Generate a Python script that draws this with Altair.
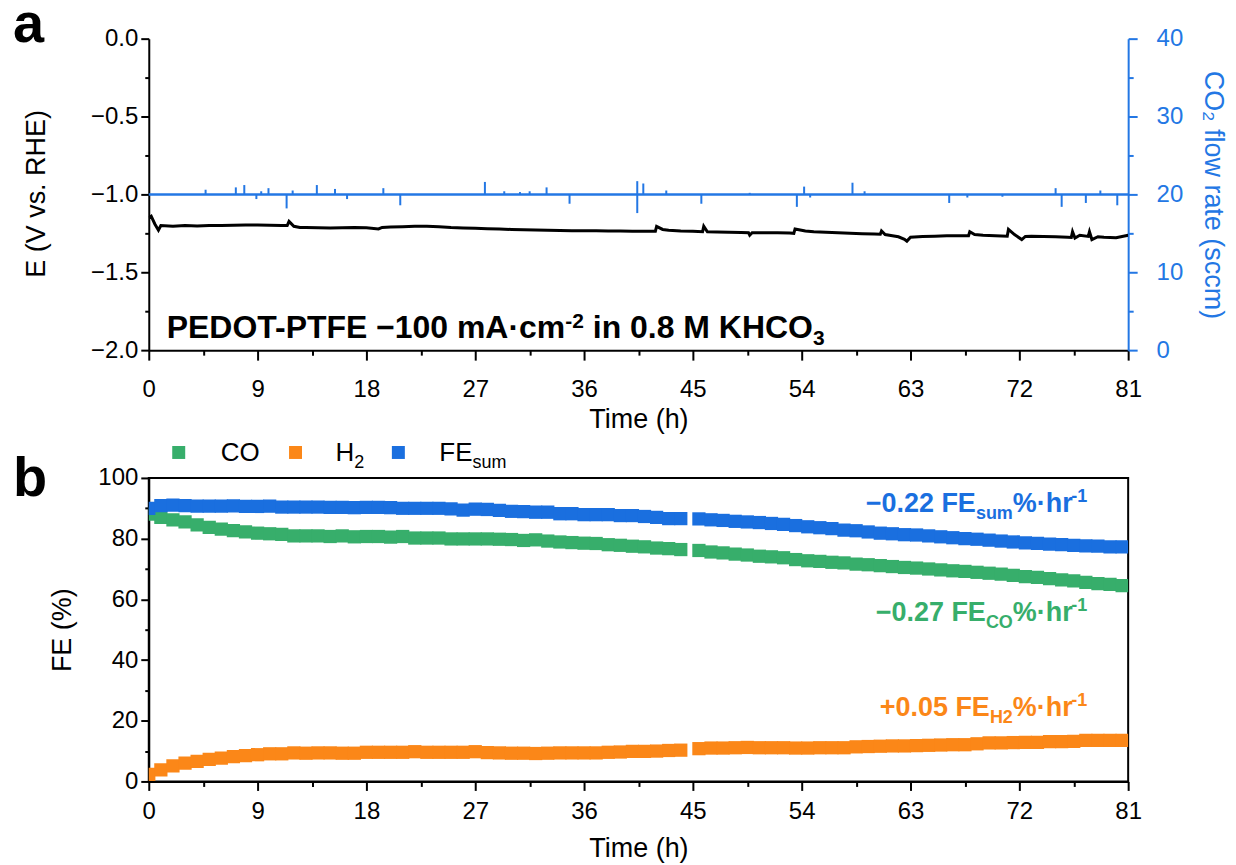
import altair as alt
import pandas as pd

FONT = "Liberation Sans"

# ---------------- data ----------------
run1_hours = [0, 1, 2, 3, 4, 5, 6, 7, 8, 9, 10, 11, 12, 13, 14, 15, 16, 17, 18, 19,
              20, 21, 22, 23, 24, 25, 26, 27, 28, 29, 30, 31, 32, 33, 34, 35, 36, 37,
              38, 39, 40, 41, 42, 43, 44]
run2_hours = [45.5, 46.5, 47.5, 48.5, 49.5, 50.5, 51.5, 52.5, 53.5, 54.5, 55.5, 56.5,
              57.5, 58.5, 59.5, 60.5, 61.5, 62.5, 63.5, 64.5, 65.5, 66.5, 67.5, 68.5,
              69.5, 70.5, 71.5, 72.5, 73.5, 74.5, 75.5, 76.5, 77.5, 78.5, 79.5, 80.5]

fe_sum_run1 = [90.0, 90.9, 91.0, 90.9, 90.7, 90.7, 90.7, 90.8, 90.6, 90.6,
               90.7, 90.4, 90.4, 90.4, 90.4, 90.3, 90.3, 90.2, 90.3, 90.3,
               90.2, 90.0, 90.0, 90.0, 90.0, 89.8, 89.4, 89.7, 89.6, 89.3,
               89.0, 88.9, 88.7, 88.7, 88.2, 88.2, 87.9, 87.9, 87.9, 87.6,
               87.6, 87.3, 87.0, 86.6, 86.6]
fe_sum_run2 = [86.5, 86.2, 86.0, 85.7, 85.5, 85.3, 85.0, 84.7, 84.3, 83.9,
               83.6, 83.3, 82.8, 82.6, 82.2, 81.8, 81.6, 81.3, 81.2, 80.9,
               80.6, 80.3, 80.0, 79.8, 79.5, 79.2, 78.9, 78.6, 78.4, 78.2,
               78.0, 77.8, 77.6, 77.5, 77.3, 77.3]

fe_co_run1 = [88.1, 87.0, 86.2, 85.5, 84.5, 83.7, 83.1, 82.6, 82.2, 81.8,
              81.6, 81.4, 80.9, 80.9, 80.9, 80.7, 80.9, 80.6, 80.7, 80.7,
              80.5, 80.7, 80.2, 80.2, 80.2, 79.9, 79.9, 79.9, 79.9, 79.8,
              79.7, 79.4, 79.6, 79.2, 78.9, 78.7, 78.5, 78.4, 78.0, 77.8,
              77.5, 77.3, 76.9, 76.7, 76.4]
fe_co_run2 = [76.1, 75.6, 75.3, 74.9, 74.6, 74.2, 74.0, 73.7, 73.1, 72.7,
              72.5, 72.2, 72.0, 71.6, 71.4, 71.1, 70.8, 70.5, 70.3, 70.0,
              69.7, 69.4, 69.2, 68.9, 68.6, 68.3, 67.9, 67.5, 67.2, 66.8,
              66.4, 66.1, 65.6, 65.2, 64.9, 64.5]

fe_h2_run1 = [2.3, 3.8, 5.1, 6.0, 6.6, 7.3, 7.7, 8.2, 8.5, 8.8,
              9.1, 9.1, 9.4, 9.3, 9.4, 9.4, 9.3, 9.3, 9.6, 9.6,
              9.6, 9.6, 9.8, 9.6, 9.6, 9.6, 9.6, 9.8, 9.5, 9.4,
              9.3, 9.3, 9.2, 9.3, 9.4, 9.4, 9.4, 9.4, 9.6, 9.7,
              9.9, 9.9, 10.0, 10.2, 10.3]
fe_h2_run2 = [10.8, 11.0, 11.0, 11.1, 11.2, 11.1, 11.1, 11.1, 11.0, 11.0,
              11.1, 11.1, 11.1, 11.4, 11.5, 11.6, 11.7, 11.7, 11.8, 11.9,
              12.0, 12.1, 12.1, 12.4, 12.7, 12.7, 12.8, 12.9, 12.9, 13.1,
              13.1, 13.2, 13.5, 13.5, 13.5, 13.5]

e_hours = [0.0, 0.2, 0.5, 0.8, 1.0, 2, 3, 4, 5, 6,
           7, 8, 9, 10, 11, 11.45, 11.6, 12.0, 12.5, 13,
           14, 15, 16, 17, 18, 19, 19.3, 20, 21, 22,
           23, 24, 25, 26, 27, 28, 29, 30, 31, 32,
           33, 34, 35, 36, 37, 38, 39, 40, 41, 41.9,
           42.0, 42.5, 43, 44, 45, 45.8, 45.9, 46.2, 47, 48,
           49, 49.6, 49.7, 49.9, 51, 52, 53, 53.35, 53.45, 54.3,
           55, 56, 57, 58, 59, 60, 60.5, 60.6, 60.9, 61.5,
           62.0, 62.5, 62.7, 63.0, 64, 65, 66, 67, 67.8, 67.9,
           68.3, 69, 70, 71.0, 71.1, 71.6, 72.2, 72.5, 73, 74,
           75, 76, 76.3, 76.4, 76.6, 77.0, 77.7, 77.8, 78.0, 78.5,
           79, 80, 81]
e_values = [-1.15, -1.14, -1.19, -1.23, -1.20, -1.205, -1.20, -1.203, -1.20, -1.20,
            -1.198, -1.197, -1.196, -1.198, -1.20, -1.20, -1.173, -1.205, -1.213, -1.213,
            -1.214, -1.215, -1.214, -1.212, -1.214, -1.222, -1.212, -1.209, -1.207, -1.205,
            -1.205, -1.207, -1.212, -1.215, -1.218, -1.220, -1.222, -1.225, -1.227, -1.228,
            -1.230, -1.232, -1.233, -1.233, -1.234, -1.235, -1.235, -1.236, -1.236, -1.236,
            -1.205, -1.225, -1.230, -1.235, -1.237, -1.240, -1.205, -1.240, -1.242, -1.243,
            -1.245, -1.246, -1.262, -1.246, -1.246, -1.247, -1.248, -1.250, -1.222, -1.235,
            -1.240, -1.243, -1.246, -1.250, -1.253, -1.255, -1.256, -1.235, -1.258, -1.265,
            -1.272, -1.288, -1.300, -1.275, -1.270, -1.268, -1.266, -1.265, -1.265, -1.240,
            -1.258, -1.262, -1.265, -1.268, -1.225, -1.258, -1.290, -1.270, -1.268, -1.270,
            -1.272, -1.275, -1.276, -1.240, -1.280, -1.262, -1.270, -1.240, -1.290, -1.272,
            -1.275, -1.278, -1.262]

flow_base_hours = [0, 81]
flow_base_values = [20, 20]
spike_hours = [4.7, 7.2, 7.9, 8.9, 9.3, 9.9, 11.4, 11.9, 13.9, 15.4,
               16.4, 19.4, 20.8, 27.8, 29.4, 30.7, 31.5, 32.9, 34.8, 40.4,
               40.4, 40.9, 42.8, 45.7, 49.7, 53.6, 54.2, 54.7, 58.2, 59.2,
               66.2, 67.7, 70.6, 75.0, 75.5, 77.5, 78.7, 80.1]
spike_values = [20.6, 20.9, 21.2, 19.4, 20.4, 20.8, 18.2, 20.5, 21.2, 20.7,
                19.4, 20.8, 18.6, 21.6, 20.4, 20.3, 20.4, 20.9, 18.8, 21.7,
                17.6, 21.4, 20.5, 18.8, 20.2, 18.4, 21.0, 19.6, 21.5, 20.4,
                18.9, 19.6, 19.7, 20.8, 18.4, 18.9, 20.5, 18.6]

x_major = [0, 9, 18, 27, 36, 45, 54, 63, 72, 81]
x_minor = [4.5, 13.5, 22.5, 31.5, 40.5, 49.5, 58.5, 67.5, 76.5]
e_ticks = [-2.0, -1.75, -1.5, -1.25, -1.0, -0.75, -0.5, -0.25, 0.0]
flow_ticks = [0, 5, 10, 15, 20, 25, 30, 35, 40]
fe_ticks = [0, 10, 20, 30, 40, 50, 60, 70, 80, 90, 100]

legend_labels = ["CO", "H", "FE"]
legend_subs = ["", "2", "sum"]
title_a = ["PEDOT-PTFE \u2212100 mA\u00b7cm", "-2", " in 0.8 M KHCO", "3"]
rate_main = ["\u22120.22 FE", "\u22120.27 FE", "+0.05 FE"]
rate_subs = ["sum", "CO", "H2"]
rate_tail = ["%\u00b7hr", "-1"]

# ---------------- styling ----------------
BLACK = "#000000"
FLOW_BLUE = "#2377e4"
SUM_BLUE = "#1a6fdf"
CO_GREEN = "#37ae6b"
H2_ORANGE = "#fb8718"
W, HA, HB = 981, 312, 304

BOLD_W = {' ': 278, '-': 333, '\u2212': 584, '+': 584, '.': 278, '%': 889, '\u00b7': 278,
          'h': 611, 'r': 389, 'F': 611, 'E': 667, 's': 556, 'u': 611, 'm': 889, 'C': 722,
          'O': 778, 'H': 722, 'P': 667, 'D': 722, 'T': 611, 'A': 722, 'c': 556, 'i': 278,
          'n': 611, 'M': 833, 'K': 722}
REG_W = {'C': 722, 'O': 778, 'H': 722, 'F': 611, 'E': 667, 's': 500, 'u': 556, 'm': 833}


def tw(s, size, bold=True):
    table = BOLD_W if bold else REG_W
    return sum(table.get(ch, 556) for ch in s) * size / 1000.0


def rich(pieces, x, y, color, bold=True, align="left"):
    total = sum(tw(t, s, bold) for t, s, _ in pieces)
    cur = x - total if align == "right" else x
    out = []
    for t, s, dy in pieces:
        lead = len(t) - len(t.lstrip(" "))
        shown = t.strip(" ")
        if shown:
            out.append(
                alt.Chart(pd.DataFrame({"label": [shown]}))
                .mark_text(align="left", baseline="alphabetic", font=FONT, fontSize=s,
                           fontWeight="bold" if bold else "normal", color=color)
                .encode(x=alt.value(cur + tw(" " * lead, s, bold)), y=alt.value(y + dy),
                        text="label:N")
            )
        cur += tw(t, s, bold)
    return out


def axis(**kw):
    base = dict(grid=False, domainColor=BLACK, domainWidth=2, tickColor=BLACK, tickWidth=2,
                labelFont=FONT, labelFontSize=24, labelColor=BLACK, labelFlush=False,
                labelOverlap=False, titleFont=FONT, titleFontSize=27, titleFontWeight="normal",
                titleColor=BLACK)
    base.update(kw)
    return alt.Axis(**base)


def cond(test, major, minor):
    return {"condition": {"test": test, "value": major}, "value": minor}


x_all = sorted(x_major + x_minor)

x_axis_a = axis(values=x_all, format="d", labelExpr="datum.value % 9 === 0 ? datum.label : ''",
                tickSize=cond("datum.value % 9 === 0", 10, 5), labelBaseline="middle",
                labelPadding=29, title="Time (h)", titleX=W / 2, titleY=69,
                titleBaseline="middle")
x_axis_b = axis(values=x_all, format="d", labelExpr="datum.value % 9 === 0 ? datum.label : ''",
                tickSize=cond("datum.value % 9 === 0", 9, 5), labelBaseline="middle",
                labelPadding=21, title="Time (h)", titleX=W / 2, titleY=67,
                titleBaseline="middle")
e_axis = axis(values=e_ticks, format=".1f", labelExpr="datum.value % 0.5 === 0 ? datum.label : ''",
              tickSize=cond("datum.value % 0.5 === 0", 8, 4), labelPadding=3,
              title="E (V vs. RHE)", titleX=-112, titleY=HA / 2 - 1, titleBaseline="middle")
flow_axis = axis(orient="right", values=flow_ticks, format="d",
                 labelExpr="datum.value % 10 === 0 ? datum.label : ''",
                 tickSize=cond("datum.value % 10 === 0", 9, 5), labelPadding=19,
                 domainColor=FLOW_BLUE, tickColor=FLOW_BLUE, labelColor=FLOW_BLUE,
                 titleColor=FLOW_BLUE, title="CO\u2082 flow rate (sccm)", titleX=84,
                 titleY=HA / 2, titleBaseline="middle")
fe_axis = axis(values=fe_ticks, format="d", labelExpr="datum.value % 20 === 0 ? datum.label : ''",
               tickSize=cond("datum.value % 20 === 0", 8, 4), labelPadding=3,
               title="FE (%)", titleX=-86, titleY=HB / 2, titleBaseline="middle")

xs = alt.Scale(domain=[0, 81], nice=False, zero=False)
xa = alt.X("t:Q", scale=xs, axis=x_axis_a)
xb = alt.X("t:Q", scale=xs, axis=x_axis_b)

# ---------------- panel a ----------------
e_df = pd.DataFrame({"t": e_hours, "v": e_values})
e_line = alt.Chart(e_df).mark_line(color=BLACK, strokeWidth=3, clip=True).encode(
    x=xa, y=alt.Y("v:Q", scale=alt.Scale(domain=[-2, 0], nice=False, zero=False), axis=e_axis))

fscale = alt.Scale(domain=[0, 40], nice=False)
base_df = pd.DataFrame({"t": flow_base_hours, "f": flow_base_values})
spk_df = pd.DataFrame({"t": spike_hours, "f": spike_values, "b": [flow_base_values[0]] * len(spike_hours)})
flow_line = alt.Chart(base_df).mark_line(color=FLOW_BLUE, strokeWidth=2.5).encode(
    x=xa, y=alt.Y("f:Q", scale=fscale, axis=flow_axis))
flow_spk = alt.Chart(spk_df).mark_rule(color=FLOW_BLUE, strokeWidth=2).encode(
    x=xa, y=alt.Y("f:Q", scale=fscale, axis=flow_axis), y2=alt.Y2("b:Q"))
flow = alt.layer(flow_line, flow_spk)

title_layers = rich([(title_a[0], 32, 0), (title_a[1], 21, -10), (title_a[2], 32, 0), (title_a[3], 21, 7)],
                    18, 300, BLACK)
letter_a = rich([("a", 56, 0)], -136, 3, BLACK)

panel_a = alt.layer(alt.layer(e_line, *title_layers, *letter_a), flow).resolve_scale(
    y="independent").properties(width=W, height=HA, view=alt.ViewBackground(stroke="transparent"))

# ---------------- panel b ----------------
ys = alt.Scale(domain=[0, 100], nice=False)
hours = run1_hours + run2_hours


def squares(vals, color):
    df = pd.DataFrame({"t": hours, "fe": vals})
    return alt.Chart(df).mark_square(size=176, color=color, opacity=1, clip=True).encode(
        x=xb, y=alt.Y("fe:Q", scale=ys, axis=fe_axis))


co_pts = squares(fe_co_run1 + fe_co_run2, CO_GREEN)
h2_pts = squares(fe_h2_run1 + fe_h2_run2, H2_ORANGE)
sum_pts = squares(fe_sum_run1 + fe_sum_run2, SUM_BLUE)

legend_layers = []
leg_colors = [CO_GREEN, H2_ORANGE, SUM_BLUE]
leg_sq_x = [30, 147, 250]
leg_tx_x = [72, 187, 291]
for i in range(3):
    legend_layers.append(
        alt.Chart(pd.DataFrame({"k": [legend_labels[i]]})).mark_square(size=169, color=leg_colors[i], opacity=1)
        .encode(x=alt.value(leg_sq_x[i]), y=alt.value(-25.5)))
    pcs = [(legend_labels[i], 26, 0)]
    if legend_subs[i]:
        pcs.append((legend_subs[i], 18, 7))
    legend_layers += rich(pcs, leg_tx_x[i], -17, BLACK, bold=False)

ann_colors = [SUM_BLUE, CO_GREEN, H2_ORANGE]
ann_y = [34, 143, 238]
ann_layers = []
for i in range(3):
    ann_layers += rich([(rate_main[i], 27, 0), (rate_subs[i], 18, 7), (rate_tail[0], 27, 0),
                        (rate_tail[1], 18, -10)], 940, ann_y[i], ann_colors[i], align="right")

letter_b = rich([("b", 56, 0)], -136, 18, BLACK)

panel_b = alt.layer(co_pts, h2_pts, sum_pts, *legend_layers, *ann_layers, *letter_b).properties(
    width=W, height=HB, view=alt.ViewBackground(stroke=BLACK, strokeWidth=2))

chart = alt.vconcat(panel_a, panel_b, spacing=128, bounds="flush").properties(
    padding={"left": 4, "top": -13, "right": 1, "bottom": 0}
).configure(font=FONT)

chart.save("out.html", embed_options={"renderer": "svg", "actions": False})
